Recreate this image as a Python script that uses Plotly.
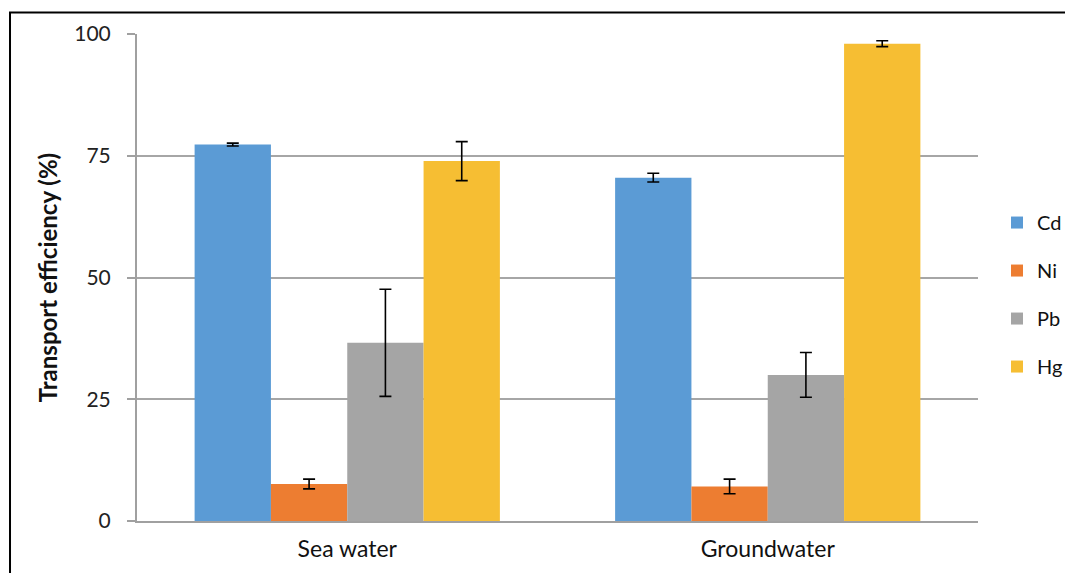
import plotly.graph_objects as go

categories = ["Sea water", "Groundwater"]
series_names = ["Cd", "Ni", "Pb", "Hg"]
cd_values = [77.3, 70.5]
ni_values = [7.6, 7.1]
pb_values = [36.6, 30.0]
hg_values = [73.9, 98.0]
cd_err = [0.3, 0.9]
ni_err = [1.0, 1.5]
pb_err = [11.0, 4.6]
hg_err = [4.0, 0.6]
colors = ["#5b9bd5", "#ed7d31", "#a5a5a5", "#f6be33"]
y_ticks = [0, 25, 50, 75, 100]

values = [cd_values, ni_values, pb_values, hg_values]
errors = [cd_err, ni_err, pb_err, hg_err]

fig = go.Figure()
for name, vals, errs, col in zip(series_names, values, errors, colors):
    fig.add_trace(go.Bar(
        name=name, x=categories, y=vals,
        marker=dict(color=col, line=dict(width=0)),
        error_y=dict(type="data", array=errs, visible=True,
                     color="black", thickness=1.6, width=6),
        legendgroup=name,
    ))

font_family = "Lato, 'Open Sans', sans-serif"
fig.update_layout(
    width=1090, height=573,
    margin=dict(l=129, r=120, t=26, b=60),
    paper_bgcolor="white", plot_bgcolor="white",
    barmode="group", bargap=0.274, bargroupgap=0,
    font=dict(family=font_family, size=21, color="#222222"),
    showlegend=True,
    legend=dict(x=1.0226, y=0.465, xanchor="left", yanchor="middle",
                font=dict(size=20, color="#111111"),
                traceorder="grouped", tracegroupgap=19,
                itemwidth=30, bgcolor="rgba(0,0,0,0)"),
    xaxis=dict(showline=True, linecolor="#a0a0a0", linewidth=2,
               ticks="", tickfont=dict(size=23, color="#111111"),
               ticklabelstandoff=6, showgrid=False),
    yaxis=dict(range=[0, 100], tickvals=y_ticks, showgrid=True,
               gridcolor="#a6a6a6", gridwidth=1.5,
               showline=True, linecolor="#a0a0a0", linewidth=2,
               ticks="outside", ticklen=8, tickcolor="#a0a0a0", tickwidth=1.5,
               ticklabelstandoff=12,
               tickfont=dict(size=21, color="#222222"), zeroline=False,
               title=dict(text="<b>Transport efficiency (%)</b>",
                          font=dict(size=24, color="#111111"), standoff=10)),
    shapes=[dict(type="rect", xref="paper", yref="paper",
                 x0=-0.151, x1=1.3, y0=-0.3, y1=1.0441,
                 line=dict(color="black", width=2), fillcolor="rgba(0,0,0,0)",
                 layer="below")],
)

fig.write_html("out.html")
